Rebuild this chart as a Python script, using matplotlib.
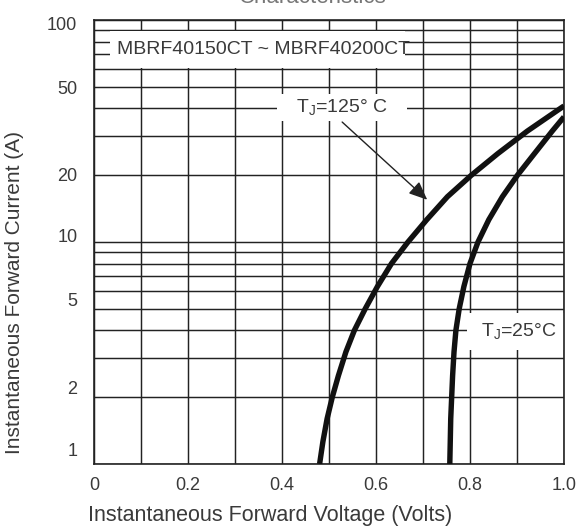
import matplotlib
matplotlib.use('Agg')
import matplotlib.pyplot as plt
from matplotlib.patches import Rectangle
from matplotlib.ticker import LogLocator, MultipleLocator, NullFormatter
from matplotlib.transforms import ScaledTranslation

# forward curves (volts, amps)
v_125 = [0.480, 0.487, 0.496, 0.507, 0.520, 0.536, 0.554, 0.577, 0.603, 0.633,
         0.668, 0.708, 0.752, 0.803, 0.859, 0.922, 0.991, 1.000]
i_125 = [1.0, 1.26, 1.6, 2.0, 2.5, 3.2, 4.0, 5.0, 6.3, 8.0,
         10.0, 12.6, 16.0, 20.0, 25.0, 31.6, 39.8, 41.0]

v_25 = [0.757, 0.758, 0.759, 0.761, 0.763, 0.766, 0.770, 0.777, 0.787, 0.800,
        0.817, 0.840, 0.869, 0.901, 0.937, 0.975, 1.000]
i_25 = [1.0, 1.26, 1.6, 2.0, 2.5, 3.2, 4.0, 5.0, 6.3, 8.0,
        10.0, 12.6, 16.0, 20.0, 25.0, 31.6, 36.6]

x_ticks = [0, 0.2, 0.4, 0.6, 0.8, 1.0]
x_tick_labels = ['0', '0.2', '0.4', '0.6', '0.8', '1.0']
y_ticks = [1, 2, 5, 10, 20, 50, 100]
y_tick_labels = ['1', '2', '5', '10', '20', '50', '100']

plt.rcParams['font.family'] = ['Liberation Sans', 'DejaVu Sans']
plt.rcParams['mathtext.fontset'] = 'custom'
plt.rcParams['mathtext.rm'] = 'Liberation Sans'

ink = '#222222'
txt = '#3a3a3a'

fig = plt.figure(figsize=(5.82, 5.29), dpi=100)
ax = fig.add_axes([94 / 582, 65 / 529, 470 / 582, 444 / 529])
ax.set_yscale('log')
ax.set_xlim(0, 1)
ax.set_ylim(1, 100)

ax.set_xticks(x_ticks)
ax.set_xticklabels(x_tick_labels)
ax.xaxis.set_minor_locator(MultipleLocator(0.1))
ax.set_yticks(y_ticks)
ax.set_yticklabels(y_tick_labels)
ax.yaxis.set_minor_locator(LogLocator(base=10, subs=range(2, 10)))
ax.yaxis.set_minor_formatter(NullFormatter())

ax.grid(which='both', color=ink, linewidth=1.05)
ax.tick_params(which='both', length=0, labelsize=13, colors=txt)
ax.tick_params(axis='x', pad=9)
ax.tick_params(axis='y', pad=12)
for s in ax.spines.values():
    s.set_color(ink)
    s.set_linewidth(1.2)

# the scanned y labels sit a bit off their lines
y_nudge = [14, 10, 9, 6, 1, -1, -4]
for lab, dy in zip(ax.get_yticklabels(), y_nudge):
    lab.set_transform(lab.get_transform() + ScaledTranslation(0, dy / 100, fig.dpi_scale_trans))

ax.plot(v_125, i_125, color='#111111', lw=3.9, solid_capstyle='butt', zorder=3)
ax.plot(v_25, i_25, color='#111111', lw=3.9, solid_capstyle='butt', zorder=3)

# white label boxes that blank out the grid
ax.add_patch(Rectangle((0.034, 61), 0.628, 28, fc='white', ec='none', zorder=2))
ax.text(0.36, 74, 'MBRF40150CT ~ MBRF40200CT', ha='center', va='center',
        fontsize=14, color=txt, zorder=4)

ax.add_patch(Rectangle((0.39, 35.2), 0.276, 11.3, fc='white', ec='none', zorder=2))
ax.text(0.528, 40, r'T$_\mathregular{J}$=125° C', ha='center', va='center',
        fontsize=14, color=txt, zorder=4)
ax.annotate('', xy=(0.709, 15.5), xytext=(0.528, 34.7),
            arrowprops=dict(arrowstyle='-|>,head_length=0.7,head_width=0.3',
                            color=ink, lw=1.0, mutation_scale=16,
                            shrinkA=0, shrinkB=0), zorder=4)

ax.add_patch(Rectangle((0.794, 3.26), 0.206, 1.53, fc='white', ec='none', zorder=2))
ax.text(0.904, 3.93, r'T$_\mathregular{J}$=25°C', ha='center', va='center',
        fontsize=14, color=txt, zorder=4)

fig.text(270 / 582, 1 - 516 / 529, 'Instantaneous Forward Voltage (Volts)',
         ha='center', va='center', fontsize=15.5, color=txt)
fig.text(15 / 582, 1 - 293 / 529, 'Instantaneous Forward Current (A)',
         ha='center', va='center', rotation=90, fontsize=15, color=txt)
fig.text(313 / 582, 1 - 3 / 529, 'Characteristics', ha='center', va='baseline',
         fontsize=16, color='#777777')

fig.savefig('out.png', dpi=100)
